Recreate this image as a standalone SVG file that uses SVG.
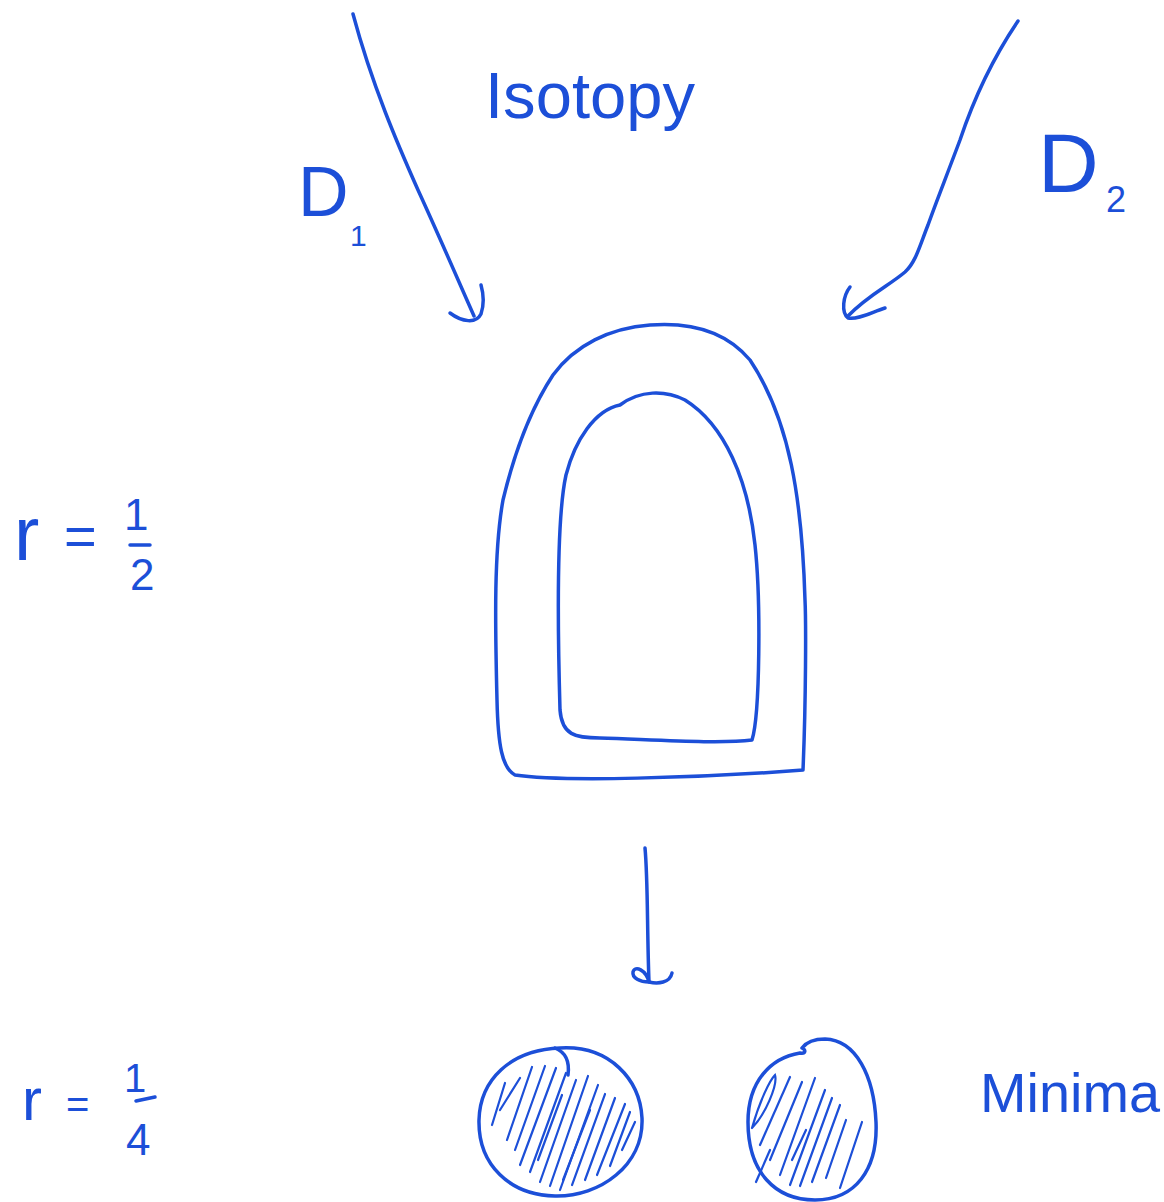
<svg xmlns="http://www.w3.org/2000/svg" width="1164" height="1202" viewBox="0 0 1164 1202">
<style>
.ink{fill:none;stroke:#1c4fd8;stroke-width:3.5;stroke-linecap:round;stroke-linejoin:round}
.hatch{fill:none;stroke:#1c4fd8;stroke-width:2.2;stroke-linecap:round}
.t{fill:#1c4fd8;font-family:"Liberation Sans","DejaVu Sans",sans-serif}
</style>
<rect width="1164" height="1202" fill="#ffffff"/>
<g id="connectors">
  <g id="arrow-d1">
    <path class="ink" d="M353,14 C372,85 398,145 418,190 C440,238 458,280 474,316"/>
    <path class="ink" d="M450,313 C462,322 476,324 481,314 C485,302 483,292 481,285"/>
  </g>
  <g id="arrow-d2">
    <path class="ink" d="M1018,21 C995,55 975,95 960,140 C945,180 935,205 928,225 C920,245 916,262 905,272 C890,285 868,295 848,316"/>
    <path class="ink" d="M850,287 C843,296 841,312 848,318 C858,320 872,312 885,308"/>
  </g>
  <g id="arrow-down">
    <path class="ink" d="M645,848 C648,880 647,930 649,982"/>
    <path class="ink" d="M649,982 C640,982 632,978 633,972 C635,965 646,970 649,982 C658,984 670,983 672,973"/>
  </g>
</g>
<g id="node-isotopy">
  <text class="t" x="485" y="118" font-size="64" textLength="210" lengthAdjust="spacingAndGlyphs">Isotopy</text>
</g>
<g id="node-d1">
  <text class="t" font-size="70"><tspan x="298" y="216">D</tspan><tspan x="350" y="246" font-size="30">1</tspan></text>
</g>
<g id="node-d2">
  <text class="t" font-size="84"><tspan x="1038" y="192">D</tspan><tspan x="1106" y="212" font-size="36">2</tspan></text>
</g>
<g id="node-annulus">
  <path class="ink" d="M803,770 C806,700 806,620 805,600 C802,500 790,420 750,360 C725,330 690,322 650,325 C610,328 575,345 553,375 C530,410 515,450 503,500 C494,550 495,620 497,700 C498,745 502,768 515,775 C560,782 700,778 803,770"/>
  <path class="ink" d="M620,405 C595,410 575,440 566,475 C556,520 558,640 560,710 C562,735 575,738 600,738 C660,740 720,744 752,740 C760,715 761,600 755,545 C748,480 725,425 685,400 C665,390 640,390 620,405"/>
</g>
<g id="node-r-half">
  <text class="t" x="14" y="560" font-size="76">r</text>
  <text class="t" x="64" y="555" font-size="56">=</text>
  <text class="t" x="124" y="530" font-size="44">1</text>
  <line class="ink" x1="130" y1="545" x2="150" y2="545"/>
  <text class="t" x="130" y="590" font-size="44">2</text>
</g>
<g id="node-r-quarter">
  <text class="t" x="22" y="1120" font-size="60">r</text>
  <text class="t" x="66" y="1118" font-size="40">=</text>
  <text class="t" x="124" y="1092" font-size="40">1</text>
  <line class="ink" x1="136" y1="1101" x2="155" y2="1097"/>
  <text class="t" x="126" y="1155" font-size="44">4</text>
</g>
<g id="node-disk-left">
  <path class="ink" d="M560,1048 C610,1045 640,1080 642,1118 C644,1165 600,1197 555,1196 C510,1195 478,1165 479,1120 C480,1080 510,1050 560,1048 Z"/>
  <path class="ink" d="M555,1048 C565,1052 570,1060 568,1075"/>
  <g class="hatch">
    <line x1="492" y1="1125" x2="505" y2="1083"/>
    <line x1="500" y1="1110" x2="520" y2="1078"/>
    <line x1="507" y1="1140" x2="532" y2="1067"/>
    <line x1="515" y1="1150" x2="545" y2="1066"/>
    <line x1="520" y1="1165" x2="556" y2="1068"/>
    <line x1="530" y1="1172" x2="566" y2="1073"/>
    <line x1="540" y1="1182" x2="576" y2="1080"/>
    <line x1="550" y1="1186" x2="588" y2="1076"/>
    <line x1="560" y1="1190" x2="598" y2="1085"/>
    <line x1="572" y1="1185" x2="605" y2="1094"/>
    <line x1="585" y1="1180" x2="615" y2="1098"/>
    <line x1="597" y1="1175" x2="625" y2="1104"/>
    <line x1="610" y1="1166" x2="630" y2="1112"/>
    <line x1="622" y1="1150" x2="635" y2="1122"/>
    <line x1="538" y1="1160" x2="562" y2="1095"/>
    <line x1="563" y1="1180" x2="590" y2="1110"/>
  </g>
</g>
<g id="node-disk-right">
  <path class="ink" d="M800,1053 C770,1058 748,1082 748,1122 C748,1172 775,1200 815,1200 C855,1200 878,1170 876,1122 C874,1076 856,1040 825,1039 C812,1039 805,1044 802,1048 C806,1050 806,1054 800,1053 Z"/>
  <g class="hatch">
    <path d="M752,1128 C760,1100 770,1080 775,1075 C778,1085 765,1115 752,1128"/>
    <line x1="760" y1="1145" x2="790" y2="1077"/>
    <line x1="770" y1="1160" x2="802" y2="1082"/>
    <line x1="780" y1="1175" x2="815" y2="1078"/>
    <line x1="790" y1="1185" x2="825" y2="1090"/>
    <line x1="800" y1="1186" x2="832" y2="1098"/>
    <line x1="812" y1="1182" x2="840" y2="1105"/>
    <line x1="826" y1="1178" x2="846" y2="1120"/>
    <line x1="840" y1="1188" x2="862" y2="1122"/>
    <line x1="756" y1="1182" x2="770" y2="1150"/>
    <line x1="792" y1="1160" x2="806" y2="1130"/>
  </g>
</g>
<g id="node-minima">
  <text class="t" x="980" y="1112" font-size="56" textLength="180" lengthAdjust="spacingAndGlyphs">Minima</text>
</g>
</svg>
